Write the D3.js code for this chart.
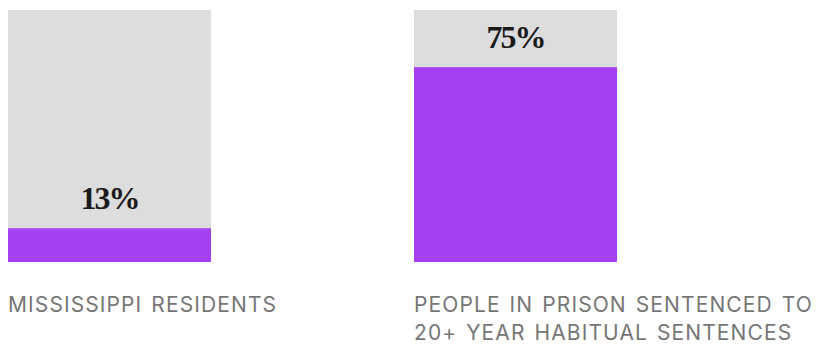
<!DOCTYPE html>
<html>
<head>
<meta charset="utf-8">
<script src="https://cdn.jsdelivr.net/npm/d3@7"></script>
<style>
body { margin: 0; background: #fff; overflow: hidden; }
</style>
</head>
<body>
<div id="chart"></div>
<script>
// data
var categories = ["MISSISSIPPI RESIDENTS", "PEOPLE IN PRISON SENTENCED TO 20+ YEAR HABITUAL SENTENCES"];
var labelLines = [["MISSISSIPPI RESIDENTS"], ["PEOPLE IN PRISON SENTENCED TO", "20+ YEAR HABITUAL SENTENCES"]];
var shares = [13, 75];
var valueLabels = ["13%", "75%"];

var w = 816, h = 345;
var yMax = 97;  // gray block top
var bw = 203;   // bar width
var step = 406; // bar spacing

var svg = d3.select("#chart").append("svg")
	.attr("width", w)
	.attr("height", h)
	.style("display", "block");

var y = d3.scaleLinear()
	.domain([0, yMax])
	.range([262, 10]);

function bx(i) { return 8 + i * step; }

// background bars
svg.selectAll("rect.bg")
	.data(categories)
	.enter()
	.append("rect")
	.attr("class", "bg")
	.attr("x", function(d, i) { return bx(i); })
	.attr("width", bw)
	.attr("y", y(yMax))
	.attr("height", y(0) - y(yMax))
	.attr("fill", "#dddddd");

// value bars
svg.selectAll("rect.val")
	.data(shares)
	.enter()
	.append("rect")
	.attr("class", "val")
	.attr("x", function(d, i) { return bx(i); })
	.attr("width", bw)
	.attr("y", function(d) { return y(d); })
	.attr("height", function(d) { return y(0) - y(d); })
	.attr("fill", "#a541f2");

// percent labels
svg.selectAll("text.pct")
	.data(shares)
	.enter()
	.append("text")
	.attr("class", "pct")
	.attr("x", function(d, i) { return bx(i) + bw / 2; })
	.attr("y", function(d) { return y(d) - 19; })
	.attr("text-anchor", "middle")
	.attr("font-family", "'Liberation Serif', serif")
	.attr("font-weight", "bold")
	.attr("font-size", 32)
	.attr("letter-spacing", -2)
	.attr("fill", "#1a1a1a")
	.text(function(d, i) { return valueLabels[i]; });

// category labels
labelLines.forEach(function(lines, i) {
	var t = svg.append("text")
		.attr("x", bx(i))
		.attr("y", 312)
		.attr("font-family", "Inter, sans-serif")
		.attr("font-size", 21)
		.attr("letter-spacing", 1.1)
		.attr("word-spacing", 2)
		.attr("fill", "#767676");
	t.selectAll("tspan")
		.data(lines)
		.enter()
		.append("tspan")
		.attr("x", bx(i))
		.attr("dy", function(d, j) { return j == 0 ? 0 : 28; })
		.text(function(d) { return d; });
});
</script>
</body>
</html>
